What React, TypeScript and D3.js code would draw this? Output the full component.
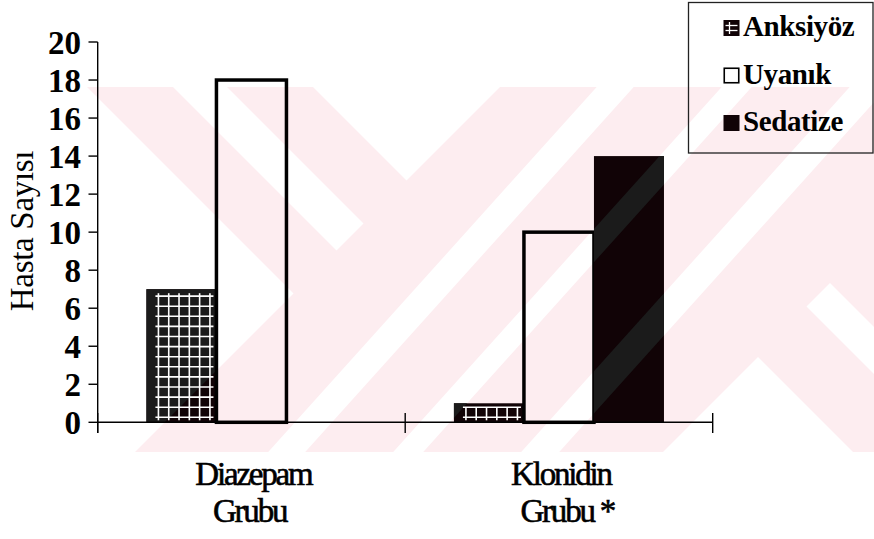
import React from "react";
import * as d3 from "d3";

// Patient counts per group and sedation state
const groups = ["Diazepam", "Klonidin"];
const groupLabelLines = [
  ["Diazepam", "Grubu"],
  ["Klonidin", "Grubu *"],
];
const series = ["Anksiyöz", "Uyanık", "Sedatize"];
const anksiyozValues = [7, 1];
const uyanikValues = [18, 10];
const sedatizeValues = [0, 14];
const yTickValues = [0, 2, 4, 6, 8, 10, 12, 14, 16, 18, 20];
const yAxisTitle = "Hasta Sayısı";

// Layout
const W = 874;
const H = 539;
const plotLeft = 97.7;
const plotRight = 712.7;
const plotTop = 42;
const plotBottom = 422.3;

const FONT = "'Liberation Serif', 'Times New Roman', serif";
const PINK = "#fdedf0";
const INK = "#110306";
const INK_LIGHT = "#1b1b1b";

// Background thesis-stamp artwork: pink field with white diagonal cut-outs
const stampField = { x0: 85, y0: 87, x1: 874, y1: 452 };
const stampHoles: [number, number][][] = [
  [[85, 87], [87, 87], [293.5, 293.5], [135, 452], [85, 452]],
  [[173, 87], [227, 87], [363.5, 223.5], [336.5, 250.5]],
  [[313, 87], [500, 87], [406.5, 180.5]],
  [[596.7, 87], [633.7, 87], [305.2, 452], [268.2, 452]],
  [[721.7, 87], [751.7, 87], [423.2, 452], [393.2, 452]],
  [[849.7, 87], [874, 87], [874, 102.2], [559.2, 452], [521.2, 452]],
  [[663, 452], [758, 357], [853, 452]],
  [[830, 283], [806.5, 306.5], [874, 374], [874, 327]],
];

const poly = (pts: [number, number][]) => pts.map((p) => p.join(",")).join(" ");

export default function App() {
  const x0 = d3.scaleBand<string>().domain(groups).range([plotLeft, plotRight]).paddingInner(0).paddingOuter(0);
  const x1 = d3
    .scaleBand<string>()
    .domain(series)
    .range([0, x0.bandwidth()])
    .paddingInner(0)
    .paddingOuter(0.696);
  const y = d3.scaleLinear().domain([0, 20]).range([plotBottom, plotTop]);

  const valuesBySeries: Record<string, number[]> = {
    "Anksiyöz": anksiyozValues,
    "Uyanık": uyanikValues,
    "Sedatize": sedatizeValues,
  };

  const bars = groups.flatMap((g, gi) =>
    series.map((s) => {
      const v = valuesBySeries[s][gi];
      const bx = (x0(g) ?? 0) + (x1(s) ?? 0);
      return { g, gi, s, v, x: bx, w: x1.bandwidth(), yTop: y(v), yBot: y(0) };
    })
  );

  // White grid lines drawn inside the chequered bars
  const gridLines = (b: (typeof bars)[number]) => {
    const lines: React.ReactNode[] = [];
    const left = b.x;
    const right = b.x + b.w;
    for (let k = 0; ; k++) {
      const lx = left + 12 + k * 10.3;
      if (lx > right - 4) break;
      lines.push(
        <line key={`v${k}`} x1={lx} x2={lx} y1={b.yTop + 4} y2={b.yBot - 2} stroke="#fff" strokeWidth={1.6} />
      );
    }
    for (let k = 0; ; k++) {
      const ly = b.yBot - 5 - k * 10.1;
      if (ly < b.yTop + 3) break;
      lines.push(
        <line key={`h${k}`} x1={left + 9} x2={right - 3} y1={ly} y2={ly} stroke="#fff" strokeWidth={1.6} />
      );
    }
    return lines;
  };

  const legendX = 688.5;
  const legendY = 2.5;
  const legendRowH = 47.5;

  return (
    <svg
      width={W}
      height={H}
      viewBox={`0 0 ${W} ${H}`}
      style={{ position: "absolute", left: 0, top: 0, background: "#fff" }}
      fontFamily={FONT}
    >
      <defs>
        {bars.map((b, i) => (
          <clipPath id={`barclip-${i}`} key={i}>
            <rect x={b.x} y={b.yTop} width={b.w} height={Math.max(0, b.yBot - b.yTop)} />
          </clipPath>
        ))}
      </defs>

      {/* stamp artwork */}
      <rect
        x={stampField.x0}
        y={stampField.y0}
        width={stampField.x1 - stampField.x0}
        height={stampField.y1 - stampField.y0}
        fill={PINK}
      />
      {stampHoles.map((pts, i) => (
        <polygon key={i} points={poly(pts)} fill="#fff" />
      ))}

      {/* bars */}
      {bars.map((b, i) => {
        if (b.v <= 0) return null;
        const h = b.yBot - b.yTop;
        if (b.s === "Uyanık") {
          return (
            <rect key={i} x={b.x} y={b.yTop} width={b.w} height={h} fill="none" stroke="#000" strokeWidth={3.5} />
          );
        }
        return (
          <g key={i}>
            <rect x={b.x} y={b.yTop} width={b.w} height={h} fill={INK} />
            <g clipPath={`url(#barclip-${i})`}>
              {stampHoles.map((pts, j) => (
                <polygon key={j} points={poly(pts)} fill={INK_LIGHT} />
              ))}
            </g>
            {b.s === "Anksiyöz" && gridLines(b)}
          </g>
        );
      })}

      {/* y axis */}
      <line x1={plotLeft} x2={plotLeft} y1={plotTop} y2={433} stroke="#000" strokeWidth={1.4} />
      {yTickValues.map((t) => (
        <g key={t}>
          <line x1={88.5} x2={plotLeft} y1={y(t)} y2={y(t)} stroke="#000" strokeWidth={1.4} />
          <text x={81} y={y(t) + 11.5} textAnchor="end" fontSize={33} fontWeight="bold" fill="#000">
            {t}
          </text>
        </g>
      ))}
      <text
        transform={`translate(33,231) rotate(-90)`}
        textAnchor="middle"
        fontSize={33}
        fill="#000"
        letterSpacing={-0.3}
      >
        {yAxisTitle}
      </text>

      {/* x axis */}
      <line x1={plotLeft} x2={plotRight} y1={plotBottom} y2={plotBottom} stroke="#000" strokeWidth={1.4} />
      {[...groups.map((g) => x0(g) ?? 0), plotRight].map((tx, i) => (
        <line key={i} x1={tx} x2={tx} y1={413} y2={433} stroke="#000" strokeWidth={1.4} />
      ))}
      {groups.map((g, gi) => {
        const cx = (x0(g) ?? 0) + x0.bandwidth() / 2;
        const [l1, l2] = groupLabelLines[gi];
        return (
          <g key={g} fontSize={33} fill="#000" stroke="#000" strokeWidth={0.6} letterSpacing={-2.2}>
            <text x={cx + 2} y={485} textAnchor="middle">
              {l1}
            </text>
            <text x={cx - 38.5} y={522} textAnchor="start">
              {l2}
            </text>
          </g>
        );
      })}

      {/* legend */}
      <rect x={legendX} y={legendY} width={184.5} height={150.5} fill="none" stroke="#222" strokeWidth={1.3} />
      {series.map((s, i) => {
        const iy = 20 + i * legendRowH;
        const ix = 723.5;
        return (
          <g key={s}>
            {s === "Anksiyöz" && (
              <g>
                <rect x={ix} y={iy} width={16} height={16} fill={INK} />
                <line x1={ix + 6} x2={ix + 6} y1={iy + 2} y2={iy + 14} stroke="#fff" strokeWidth={1.3} />
                <line x1={ix + 2} x2={ix + 14} y1={iy + 5.5} y2={iy + 5.5} stroke="#fff" strokeWidth={1.3} />
                <line x1={ix + 2} x2={ix + 14} y1={iy + 10.5} y2={iy + 10.5} stroke="#fff" strokeWidth={1.3} />
              </g>
            )}
            {s === "Uyanık" && (
              <rect x={ix + 0.75} y={iy + 0.75} width={14.5} height={14.5} fill="#fff" stroke="#000" strokeWidth={1.6} />
            )}
            {s === "Sedatize" && <rect x={ix} y={iy} width={16} height={16} fill={INK} />}
            <text x={743} y={iy + 16} fontSize={29} fontWeight="bold" fill="#000" letterSpacing={-0.4}>
              {s}
            </text>
          </g>
        );
      })}
    </svg>
  );
}
